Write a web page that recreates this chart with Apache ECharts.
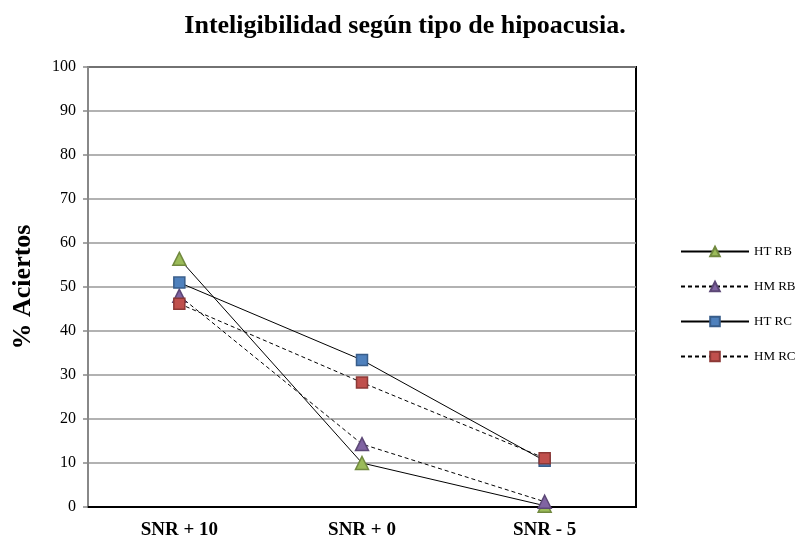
<!DOCTYPE html>
<html>
<head>
<meta charset="utf-8">
<script src="https://cdn.jsdelivr.net/npm/echarts@6/dist/echarts.min.js"></script>
<style>
* { margin: 0; padding: 0; }
body { background: #fff; }
#chart { width: 812px; height: 546px; }
</style>
</head>
<body>
<div id="chart"></div>
<script>
// datos
var categorias = ["SNR + 10", "SNR + 0", "SNR - 5"];
var htRB = [56.4, 10.0, 0.3];
var hmRB = [48.0, 14.3, 1.2];
var htRC = [51.0, 33.4, 10.5];
var hmRC = [46.2, 28.3, 11.1];

var fuente = "'Liberation Serif', 'DejaVu Serif', serif";

function serie(nombre, datos, simbolo, tam, color, borde, tipoLinea) {
  return {
    name: nombre,
    type: "line",
    data: datos,
    symbol: simbolo,
    symbolSize: tam,
    showAllSymbol: true,
    lineStyle: { color: "#000", width: 1, type: tipoLinea },
    itemStyle: { color: color, borderColor: borde, borderWidth: 1.5 },
    emphasis: { disabled: true },
    animation: false,
  };
}

var chart = echarts.init(document.getElementById("chart"));
var option = {
  backgroundColor: "#fff",
  title: {
    text: "Inteligibilidad según tipo de hipoacusia.",
    left: 400,
    textAlign: "center",
    top: 8,
    textStyle: { fontFamily: fuente, fontSize: 26, fontWeight: "bold", color: "#000" },
  },
  legend: {
    orient: "vertical",
    left: 675,
    top: 240,
    itemWidth: 68,
    itemHeight: 12,
    itemGap: 22,
    textStyle: { fontFamily: fuente, fontSize: 13, color: "#000" },
    data: ["HT RB", "HM RB", "HT RC", "HM RC"],
  },
  // posicion del area del grafico
  grid: {
    left: 88,
    right: 176,
    top: 67,
    bottom: 39,
    show: true,
    borderColor: "#000",
    borderWidth: 2,
  },
  xAxis: {
    type: "category",
    data: categorias,
    boundaryGap: true,
    axisLine: { lineStyle: { color: "#000", width: 2 } },
    axisTick: { show: false },
    axisLabel: {
      fontFamily: fuente,
      fontSize: 19,
      fontWeight: "bold",
      color: "#000",
      margin: 14,
    },
  },
  yAxis: {
    type: "value",
    min: 0,
    max: 100,
    interval: 10,
    name: "% Aciertos",
    nameLocation: "middle",
    nameGap: 52,
    nameTextStyle: { fontFamily: fuente, fontSize: 26, fontWeight: "bold", color: "#000" },
    axisLine: { show: true, lineStyle: { color: "#888", width: 2 } },
    axisTick: { show: true, length: 5, lineStyle: { color: "#888", width: 1.5 } },
    axisLabel: { fontFamily: fuente, fontSize: 16, color: "#000", margin: 12 },
    splitLine: { lineStyle: { color: "#999", width: 1.5 } },
  },
  series: [
    serie("HT RB", htRB, "triangle", 13, "#9BBB59", "#71893F", "solid"),
    serie("HM RB", hmRB, "triangle", 13, "#8064A2", "#5C4776", [4, 3]),
    serie("HT RC", htRC, "rect", 11, "#4F81BD", "#385D8A", "solid"),
    serie("HM RC", hmRC, "rect", 11, "#C0504D", "#8C3836", [4, 3]),
  ],
};
chart.setOption(option);
</script>
</body>
</html>
